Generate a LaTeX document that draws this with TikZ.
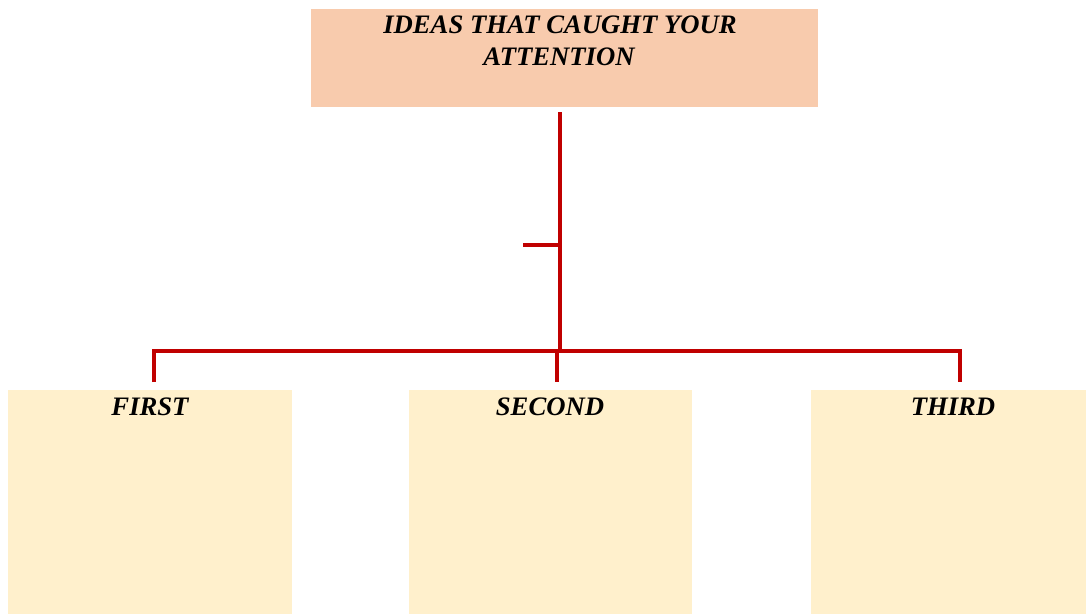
\documentclass[tikz,border=0pt]{standalone}
\usepackage{fontspec}
\setmainfont{Liberation Serif}
\definecolor{topfill}{HTML}{F8CBAD}
\definecolor{boxfill}{HTML}{FFF0CC}
\definecolor{linered}{HTML}{C00000}
\begin{document}
\begin{tikzpicture}[x=0.75pt,y=-0.75pt,
  box/.style={draw=none, inner sep=0pt, anchor=north west},
  lbl/.style={anchor=base, inner sep=0pt, font=\fontsize{20}{24}\selectfont\bfseries\itshape},
  conn/.style={draw=linered, line width=2.5pt}]
\useasboundingbox (0,0) rectangle (1086,614);
% boxes
\node[box, fill=topfill, minimum width=380.25pt, minimum height=73.5pt] (top) at (311,9) {};
\node[box, fill=boxfill, minimum width=213pt, minimum height=168pt] (b1) at (8,390) {};
\node[box, fill=boxfill, minimum width=212.25pt, minimum height=168pt] (b2) at (409,390) {};
\node[box, fill=boxfill, minimum width=206.25pt, minimum height=168pt] (b3) at (811,390) {};
% texts
\node[lbl] (t1) at (560,33) {IDEAS THAT CAUGHT YOUR};
\node[lbl] (t2) at (559,65) {ATTENTION};
\node[lbl] (l1) at (150,415) {FIRST};
\node[lbl] (l2) at (550,415) {SECOND};
\node[lbl] (l3) at (953,415) {THIRD};
% connector points
\coordinate (vtop) at (560,112);
\coordinate (vbot) at (560,351);
\coordinate (stubL) at (523,245);
\coordinate (stubR) at (560,245);
\coordinate (hL) at (154,351);
\coordinate (hR) at (960,351);
\coordinate (d1) at (154,382);
\coordinate (d2) at (557,382);
\coordinate (d2t) at (557,351);
\coordinate (d3) at (960,382);
% connectors
\draw[conn] (vtop) -- (vbot);
\draw[conn] (stubL) -- (stubR);
\draw[conn] (d1) -- (hL) -- (hR) -- (d3);
\draw[conn] (d2t) -- (d2);
\end{tikzpicture}
\end{document}
